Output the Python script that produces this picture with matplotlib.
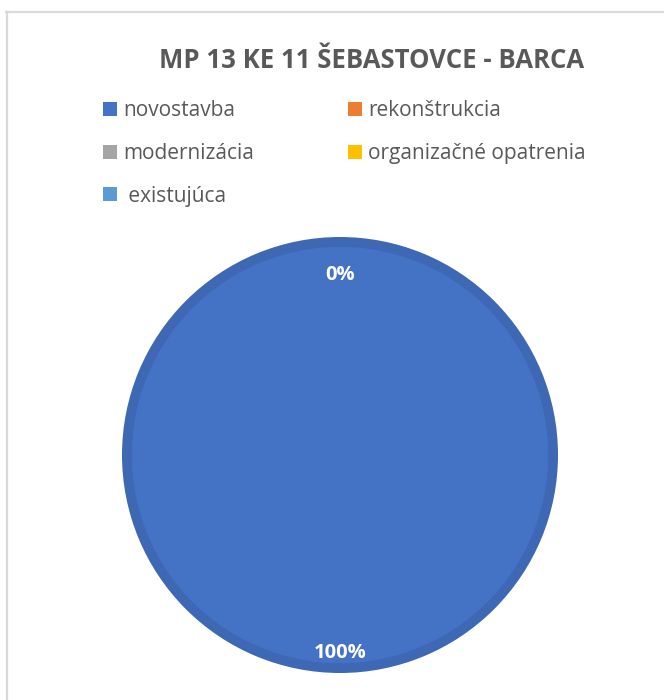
import matplotlib.pyplot as plt
from matplotlib.lines import Line2D

# Data
kategorie = ['novostavba', 'rekonštrukcia', 'modernizácia',
             'organizačné opatrenia', ' existujúca']
hodnoty = [100, 0, 0, 0, 0]
farby = ['#4472C4', '#ED7D31', '#A5A5A5', '#FFC000', '#5B9BD5']
farby_okraj = ['#3E68B4', '#D8702A', '#969696', '#E8AF00', '#538DC2']
nadpis = 'MP 13 KE 11 ŠEBASTOVCE - BARCA'

plt.rcParams['font.family'] = ['Open Sans', 'DejaVu Sans']
sedy = '#595959'

fig = plt.figure(figsize=(6.64, 7.0), dpi=100)
W, H = 664, 700

# frame lines (only top and left visible)
fig.add_artist(Line2D([6 / W, 1], [1 - 12 / H, 1 - 12 / H], color='#D9D9D9', lw=1.6))
fig.add_artist(Line2D([7 / W, 7 / W], [0, 1 - 12 / H], color='#D9D9D9', lw=1.6))

# pie axes: center (340, 455), radius 218 px
R = 218
ax = fig.add_axes([(340 - R) / W, (H - 455 - R) / H, 2 * R / W, 2 * R / H])
ax.set_xlim(-1, 1)
ax.set_ylim(-1, 1)
ax.set_aspect('equal')
ax.axis('off')

# darker outer ring
ax.pie(hodnoty, colors=farby_okraj, radius=1.0, startangle=90, counterclock=False,
       wedgeprops=dict(width=0.05, linewidth=0))
wedges, texts, autotexts = ax.pie(hodnoty, colors=farby, radius=0.955, startangle=90,
                                  counterclock=False, autopct='%1.0f%%', pctdistance=0.92,
                                  wedgeprops=dict(linewidth=0),
                                  textprops=dict(color='white', fontsize=14.5, fontweight='bold'))
ax.set_xlim(-1, 1)
ax.set_ylim(-1, 1)
prvy_nula = True
for t, v in zip(autotexts, hodnoty):
    x, y = t.get_position()
    if v == 0:
        # zero slices all sit at the top; show one label
        t.set_position((x, y * 0.94))
        t.set_visible(prvy_nula)
        prvy_nula = False
    else:
        t.set_position((x, y * 1.035))

fig.text(372 / W, 1 - 60 / H, nadpis, ha='center', va='center', fontsize=18.5,
         fontweight='bold', color=sedy)

poradie = [0, 2, 4, 1, 3]
leg = fig.legend([wedges[i] for i in poradie], [kategorie[i] for i in poradie],
                 ncol=2, loc='upper left', bbox_to_anchor=(103 / W, 1 - 100 / H),
                 frameon=False, fontsize=15, handlelength=0.65, handleheight=0.65,
                 handletextpad=0.3, labelspacing=1.05, columnspacing=4.55, borderpad=0,
                 borderaxespad=0)
for t in leg.get_texts():
    t.set_color(sedy)

fig.savefig('out.png', dpi=100)
